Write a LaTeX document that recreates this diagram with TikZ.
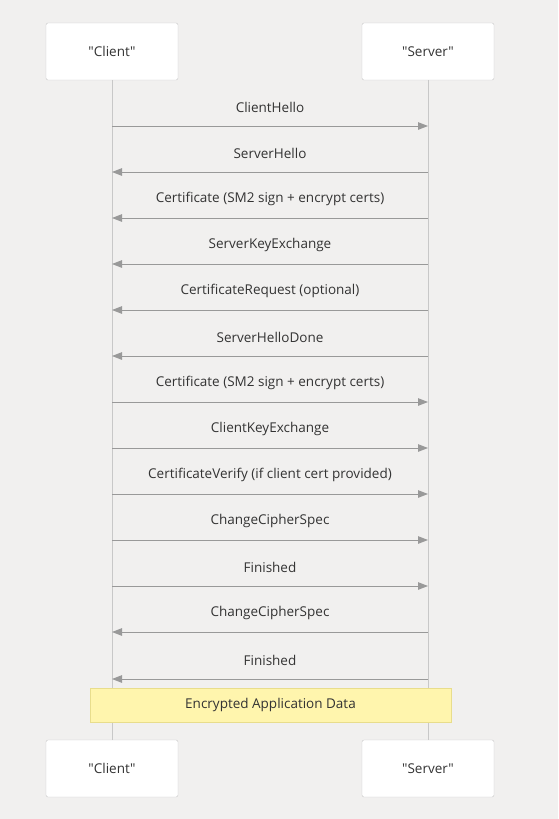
\documentclass[tikz,border=0pt]{standalone}
\usepackage{fontspec}
\setmainfont{Open Sans}[Ligatures=TeXOff]
\usetikzlibrary{arrows.meta}
\definecolor{bgcol}{HTML}{F1F0EF}
\definecolor{linecol}{HTML}{C8C8C8}
\definecolor{msgcol}{HTML}{999999}
\definecolor{txtcol}{HTML}{333333}
\definecolor{notefill}{HTML}{FFF5AD}
\definecolor{notedraw}{HTML}{E8DD8C}
\tikzset{
	actor/.style={draw=linecol, fill=white, rounded corners=2pt, minimum width=132pt, minimum height=57pt, text=txtcol, font=\fontsize{13.5}{16}\selectfont},
	msg/.style={draw=msgcol, line width=1pt, -{Triangle[length=10pt,width=7.5pt]}},
	msglabel/.style={text=txtcol, font=\fontsize{13.5}{16}\selectfont},
	notebox/.style={draw=notedraw, fill=notefill, minimum width=361pt, minimum height=34pt, text=txtcol, font=\fontsize{13.5}{16}\selectfont},
}
\begin{document}
\begin{tikzpicture}[x=1pt,y=-1pt]
	\fill[bgcol] (0,0) rectangle (558,819);
	\useasboundingbox (0,0) rectangle (558,819);
	
	% actors
	\node[actor] (client) at (112,51.5) {"Client"};
	\node[actor] (server) at (428,51.5) {"Server"};
	\node[actor] (clientb) at (112,768.5) {"Client"};
	\node[actor] (serverb) at (428,768.5) {"Server"};
	\draw[linecol, line width=1pt] (client) -- (clientb);
	\draw[linecol, line width=1pt] (server) -- (serverb);
	
	% messages: y, direction (1 = to server), label
	\foreach \y/\d/\t [count=\i] in {
		126/1/ClientHello,
		172/0/ServerHello,
		218/0/Certificate (SM2 sign + encrypt certs),
		264/0/ServerKeyExchange,
		310/0/CertificateRequest (optional),
		356/0/ServerHelloDone,
		402/1/Certificate (SM2 sign + encrypt certs),
		448/1/ClientKeyExchange,
		494/1/CertificateVerify (if client cert provided),
		540/1/ChangeCipherSpec,
		586/1/Finished,
		632/0/ChangeCipherSpec,
		679/0/Finished}{
		\coordinate (c\i) at (112,\y);
		\coordinate (s\i) at (428,\y);
		\node[msglabel] (m\i) at (270,\y-19) {\t};
		\ifnum\d=1
			\draw[msg] (c\i) -- (s\i);
		\else
			\draw[msg] (s\i) -- (c\i);
		\fi
	}
	
	\node[notebox] (appdata) at (270.5,705) {Encrypted Application Data};
\end{tikzpicture}
\end{document}
